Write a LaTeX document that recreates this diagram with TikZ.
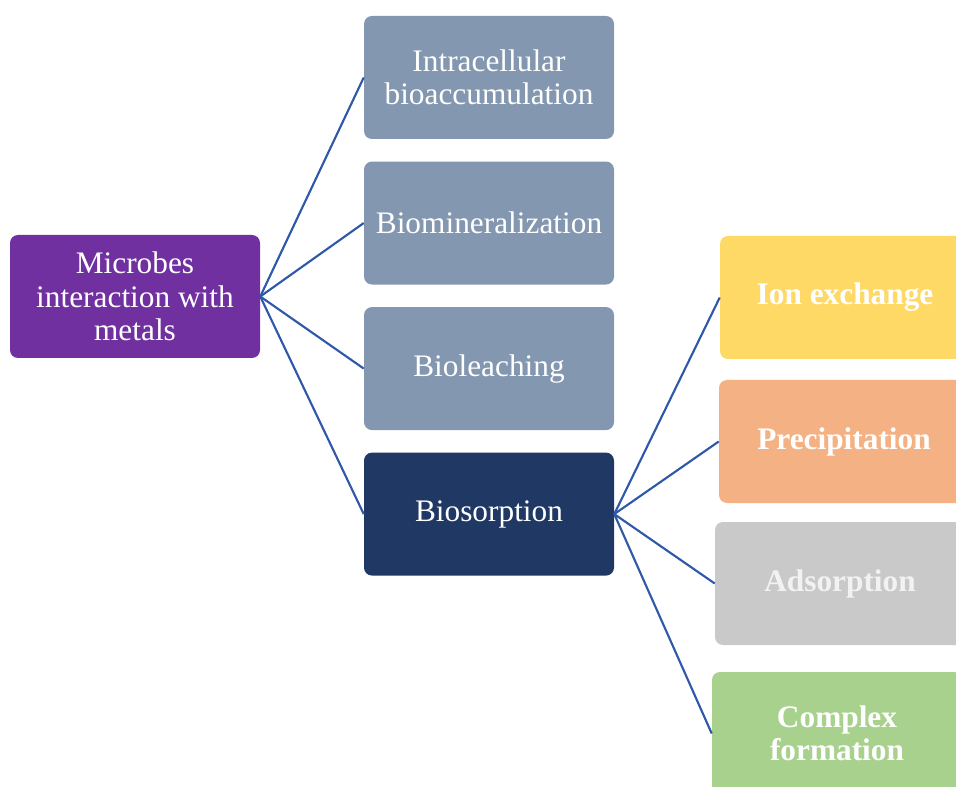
\documentclass[tikz,border=0pt]{standalone}
\usepackage{fontspec}
\setmainfont{Liberation Serif}
\usepackage{tikz}
\usetikzlibrary{positioning}
\definecolor{rootpurple}{HTML}{7030A0}
\definecolor{slategrey}{HTML}{8497B0}
\definecolor{darknavy}{HTML}{203864}
\definecolor{softyellow}{HTML}{FFD966}
\definecolor{softorange}{HTML}{F4B183}
\definecolor{softgrey}{HTML}{C9C9C9}
\definecolor{softgreen}{HTML}{A9D18E}
\definecolor{linkblue}{HTML}{2F58A8}
\tikzstyle{box} = [rectangle, rounded corners=6pt, minimum width=187.5pt, minimum height=92.25pt, align=center, text=white, font=\fontsize{23.5}{25}\selectfont]
\tikzstyle{method} = [box, fill=slategrey]
\tikzstyle{mechanism} = [box, font=\fontsize{23.5}{25}\selectfont\bfseries]
\tikzstyle{link} = [line width=1.6pt, draw=linkblue]

\begin{document}
\begin{tikzpicture}[x=0.75pt, y=-0.75pt, node distance=16.5pt]
	\useasboundingbox (0,0) rectangle (956,787);
	\clip (0,0) rectangle (956,787);

	\node (microbes) [box, fill=rootpurple] at (135,296.5) {Microbes\\interaction with\\metals};
	\node (intracellular) [method] at (489,77.5) {Intracellular\\bioaccumulation};
	\node (biomineral) [method, below=of intracellular] {Biomineralization};
	\node (bioleaching) [method, below=of biomineral] {Bioleaching};
	\node (biosorption) [box, fill=darknavy, below=of bioleaching] {Biosorption};

	\node (ionexchange) [mechanism, fill=softyellow] at (845,297.5) {Ion exchange};
	\node (precipitation) [mechanism, fill=softorange] at (844,441.5) {Precipitation};
	\node (adsorption) [mechanism, fill=softgrey, text=white!95!black] at (840,583.5) {Adsorption};
	\node (complex) [mechanism, fill=softgreen] at (837,733.5) {Complex\\formation};

	\draw [link] (microbes.east) -- (intracellular.west);
	\draw [link] (microbes.east) -- (biomineral.west);
	\draw [link] (microbes.east) -- (bioleaching.west);
	\draw [link] (microbes.east) -- (biosorption.west);

	\draw [link] (biosorption.east) -- (ionexchange.west);
	\draw [link] (biosorption.east) -- (precipitation.west);
	\draw [link] (biosorption.east) -- (adsorption.west);
	\draw [link] (biosorption.east) -- (complex.west);
\end{tikzpicture}
\end{document}
